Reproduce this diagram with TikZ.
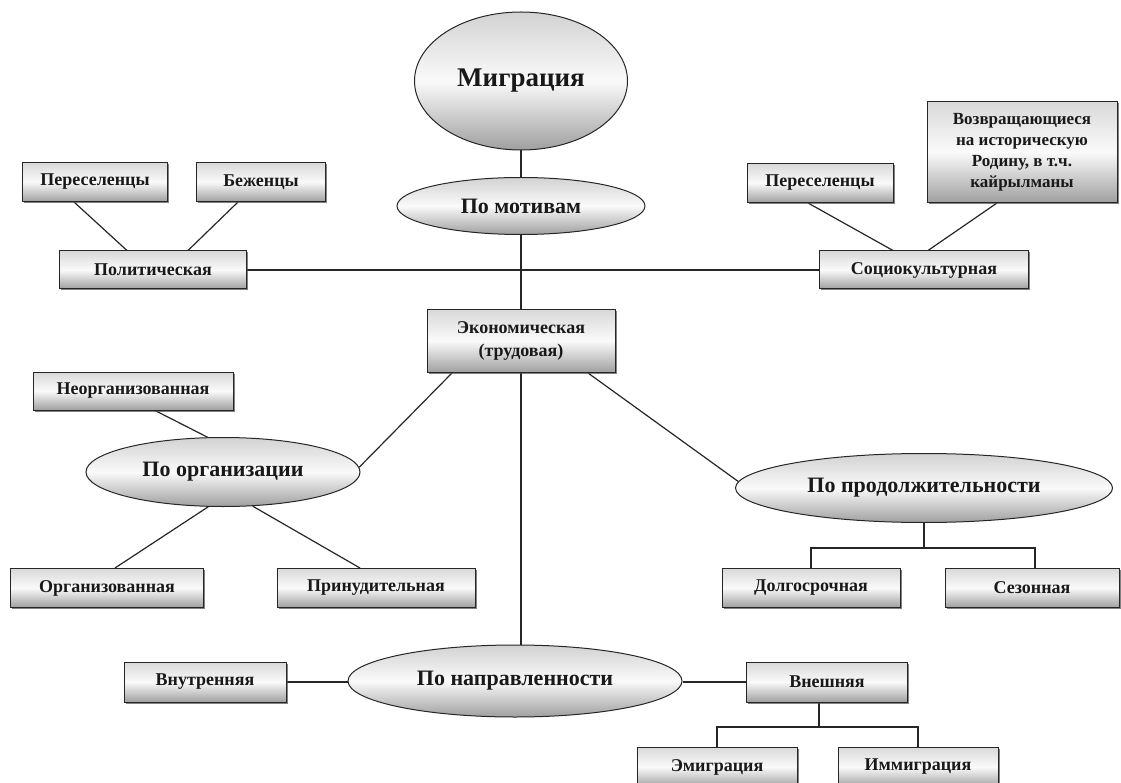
\documentclass[tikz,border=0pt]{standalone}
\usepackage{fontspec}
\setmainfont{Liberation Serif}
\usetikzlibrary{shapes.geometric,shadows,backgrounds,calc}
\tikzset{
  boxnode/.style={rectangle, draw=black!85, line width=1pt, inner sep=0pt,
    top color=gray!30, bottom color=gray!75, middle color=gray!4,
    drop shadow={shadow xshift=1.5pt, shadow yshift=-1.5pt, opacity=0.7, fill=black!70},
    font=\fontsize{18}{20}\selectfont\bfseries, text=black!90, align=center},
  ovalnode/.style={ellipse, draw=black!85, line width=1pt, inner sep=0pt,
    top color=gray!35, bottom color=gray!75, middle color=gray!4,
    font=\fontsize{22}{24}\selectfont\bfseries, text=black!90, align=center},
  link/.style={draw=black!85, line width=1.2pt}
}
\begin{document}
\begin{tikzpicture}[x=1pt,y=-1pt]
\useasboundingbox (0,0) rectangle (1121,783);
\clip (0,0) rectangle (1121,783);
% ellipses
\node[ovalnode, minimum width=213pt, minimum height=138pt, font=\fontsize{27}{30}\selectfont\bfseries] (mig) at (521,81) {Миграция};
\node[ovalnode, minimum width=248pt, minimum height=57pt] (motiv) at (521,206) {По мотивам};
\node[ovalnode, minimum width=274pt, minimum height=69pt] (org) at (223,472) {По организации};
\node[ovalnode, minimum width=377pt, minimum height=69pt] (prod) at (924,488) {По продолжительности};
\node[ovalnode, minimum width=334pt, minimum height=72pt] (napr) at (515,681) {По направленности};
% boxes
\node[boxnode, minimum width=187pt, minimum height=38pt] (pol) at (153,270) {Политическая};
\node[boxnode, minimum width=145pt, minimum height=39pt] (pere1) at (95,182) {Переселенцы};
\node[boxnode, minimum width=129pt, minimum height=39pt] (bezh) at (261,182) {Беженцы};
\node[boxnode, minimum width=209pt, minimum height=38pt] (soc) at (924,270) {Социокультурная};
\node[boxnode, minimum width=146pt, minimum height=39pt] (pere2) at (820,183) {Переселенцы};
\node[boxnode, minimum width=190pt, minimum height=101pt, font=\fontsize{17}{21}\selectfont\bfseries] (vozv) at (1022,152) {Возвращающиеся\\на историческую\\Родину, в т.ч.\\кайрылманы};
\node[boxnode, minimum width=188pt, minimum height=63pt, font=\fontsize{18}{23}\selectfont\bfseries] (ekon) at (521,341) {Экономическая\\(трудовая)};
\node[boxnode, minimum width=200pt, minimum height=38pt] (neorg) at (133,391) {Неорганизованная};
\node[boxnode, minimum width=193pt, minimum height=39pt] (orgz) at (107,588) {Организованная};
\node[boxnode, minimum width=198pt, minimum height=39pt] (prin) at (376,588) {Принудительная};
\node[boxnode, minimum width=178pt, minimum height=39pt] (dolg) at (811,588) {Долгосрочная};
\node[boxnode, minimum width=174pt, minimum height=39pt] (sez) at (1032,588) {Сезонная};
\node[boxnode, minimum width=162pt, minimum height=40pt] (vnutr) at (205,682) {Внутренняя};
\node[boxnode, minimum width=161pt, minimum height=40pt] (vnesh) at (827,682) {Внешняя};
\node[boxnode, minimum width=160pt, minimum height=40pt] (emig) at (717,767) {Эмиграция};
\node[boxnode, minimum width=160pt, minimum height=40pt] (immig) at (918,767) {Иммиграция};
\coordinate (pj) at (924,548);
\coordinate (vj) at (819,727);
\begin{scope}[on background layer]
\draw[link] (mig.south) -- (motiv.north);
\draw[link] (motiv.south) -- (ekon.north);
\draw[link] (pol.east) -- (soc.west);
\draw[link] ([xshift=-21pt]pere1.south) -- ([xshift=-26pt]pol.north);
\draw[link] ([xshift=-23pt]bezh.south) -- ([xshift=35pt]pol.north);
\draw[link] ([xshift=-12pt]pere2.south) -- ([xshift=-31pt]soc.north);
\draw[link] ([xshift=-25pt]vozv.south) -- ([xshift=4pt]soc.north);
\draw[link] ([xshift=22pt]neorg.south) -- (org.114);
\draw[link] ([xshift=-69pt]ekon.south) -- (org.2);
\draw[link] ([xshift=67pt]ekon.south) -- (prod.178);
\draw[link] (ekon.south) -- (ekon.south |- napr.north);
\draw[link] (org.247) -- ([xshift=8pt]orgz.north);
\draw[link] (org.311) -- ([xshift=-16pt]prin.north);
\draw[link] (prod.south) -- (pj);
\draw[link] (dolg.north) |- (pj) -| ([xshift=3pt]sez.north);
\draw[link] (vnutr.east) -- (vnutr.east -| napr.west);
\draw[link] (vnesh.west) -- (vnesh.west -| napr.east);
\draw[link] ([xshift=-8pt]vnesh.south) -- (vj);
\draw[link] (emig.north) |- (vj) -| (immig.north);
\end{scope}
\end{tikzpicture}
\end{document}
